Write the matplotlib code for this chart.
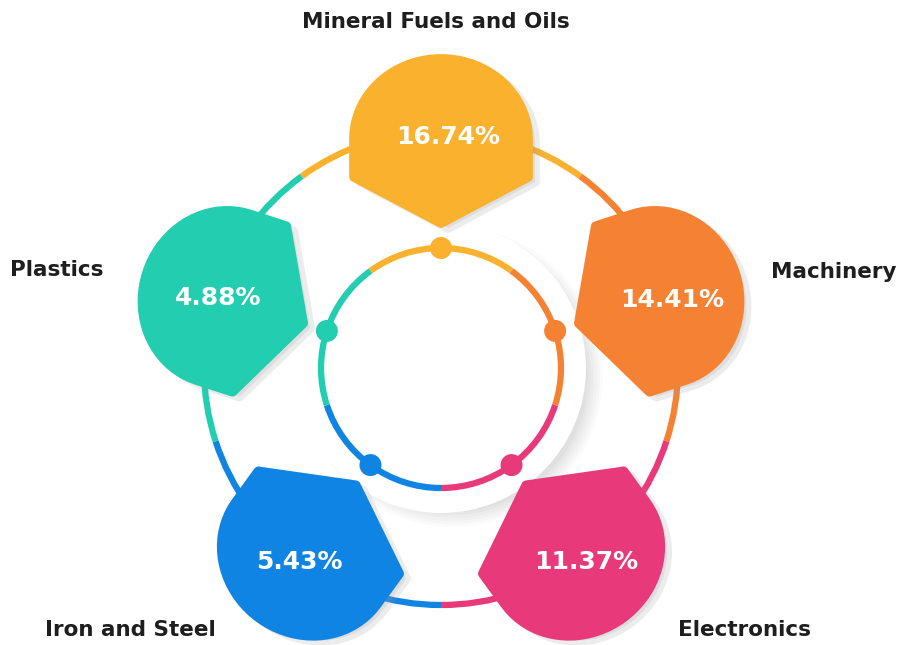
"""Trade share infographic: five blobs around a ring."""
import numpy as np
import matplotlib.pyplot as plt
from matplotlib.patches import Polygon, Circle, Arc

categories = ["Mineral Fuels and Oils", "Machinery", "Electronics", "Iron and Steel", "Plastics"]
shares = [16.74, 14.41, 11.37, 5.43, 4.88]
colors = ["#F9B12E", "#F58233", "#E8397B", "#1084E3", "#22CDB0"]

W, H = 901, 645
CX, CY = 441, 368
R_OUT, R_IN = 237, 120
ANGLES = [90, 18, -54, -126, 162]  # outward direction of each blob

label_pos = [(436, 22), (834, 272), (745, 630), (130, 630), (57, 270)]
text_nudge = [(7, 6), (6, 5), (6, 2), (-2, 2), (3, 3)]


def blob_outline():
    """Shield-like shape with its tip pointing down (toward the ring centre)."""
    t = np.linspace(0, np.pi, 40)
    r = 87
    top = np.column_stack([r * np.cos(t), -8 + 0.92 * r * np.sin(t)])
    rest = np.array([[-r, -46], [0, -92], [r, -46], [r, -8]])
    return np.vstack([top, rest])


def place(pts, cx, cy, theta):
    phi = np.deg2rad(theta - 90)
    c, s = np.cos(phi), np.sin(phi)
    xr = pts[:, 0] * c - pts[:, 1] * s
    yr = pts[:, 0] * s + pts[:, 1] * c
    return np.column_stack([cx + xr, cy - yr])


fig = plt.figure(figsize=(W / 100, H / 100), dpi=100)
ax = fig.add_axes([0, 0, 1, 1])
ax.set_xlim(0, W)
ax.set_ylim(H, 0)
ax.set_aspect("equal")
ax.axis("off")

# soft shadow and white disc behind the inner ring
for k, a in zip(range(6), [0.03, 0.035, 0.04, 0.045, 0.05, 0.055]):
    ax.add_patch(Circle((CX + 12, CY + 9), 150 - k * 3, color="#808080", alpha=a, lw=0, zorder=1))
ax.add_patch(Circle((CX, CY), 145, color="white", lw=0, zorder=2))

# outer and inner rings, one coloured arc per category
for theta, col in zip(ANGLES, colors):
    for rad, z in [(R_OUT, 1.5), (R_IN, 3)]:
        # y axis is inverted, so arc angles are mirrored
        ax.add_patch(Arc((CX, CY), 2 * rad, 2 * rad, theta1=-theta - 36, theta2=-theta + 36,
                         color=col, lw=4.5, zorder=z))
    dx, dy = np.cos(np.deg2rad(theta)), np.sin(np.deg2rad(theta))
    ax.add_patch(Circle((CX + R_IN * dx, CY - R_IN * dy), 11, color=col, lw=0, zorder=4))

# blobs
shape = blob_outline()
for i, (theta, col) in enumerate(zip(ANGLES, colors)):
    t = np.deg2rad(theta)
    bx, by = CX + R_OUT * np.cos(t), CY - R_OUT * np.sin(t)
    pts = place(shape, bx, by, theta)
    ax.add_patch(Polygon(pts + [7, 5], closed=True, fc="#9a9a9a", ec="#9a9a9a", lw=7,
                         joinstyle="round", alpha=0.18, zorder=5))
    ax.add_patch(Polygon(pts, closed=True, fc=col, ec=col, lw=7, joinstyle="round", zorder=6))
    nx_, ny_ = text_nudge[i]
    ax.text(bx + nx_, by + ny_, f"{shares[i]:.2f}%", color="white", fontsize=18,
            fontweight="bold", family="DejaVu Sans", ha="center", va="center", zorder=7)

for name, (lx, ly) in zip(categories, label_pos):
    ax.text(lx, ly, name, color="#1e1e1e", fontsize=15.5, fontweight="bold",
            family="DejaVu Sans", ha="center", va="center")

fig.savefig("out.png", dpi=100)
